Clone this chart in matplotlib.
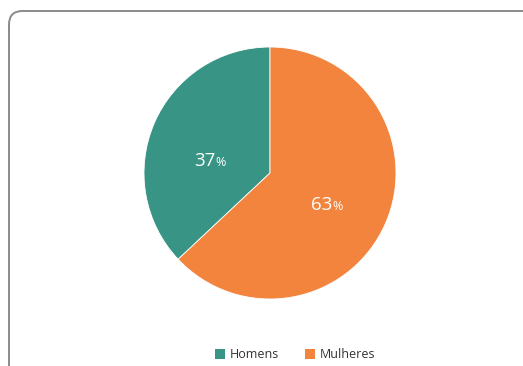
import numpy as np
import matplotlib
matplotlib.use("Agg")
import matplotlib.pyplot as plt
from matplotlib.patches import FancyBboxPatch, Patch

labels = ["Homens", "Mulheres"]
values = [37, 63]
colors = ["#389484", "#F2843D"]

W, H = 523, 366
fig = plt.figure(figsize=(W / 100, H / 100), dpi=100)
plt.rcParams["font.family"] = ["Open Sans", "DejaVu Sans"]

# frame (rounded box, runs off right and bottom)
frame = FancyBboxPatch((9 / W, -0.2), 1.2, (H - 11) / H + 0.2,
                       boxstyle="round,pad=0,rounding_size=0.026",
                       transform=fig.transFigure, fill=False,
                       edgecolor="#8a8a8a", linewidth=1.4, mutation_aspect=W / H)
fig.patches.append(frame)

ax = fig.add_axes([0, 0, 1, 1])
cx, cy, r = 270, H - 173, 126
wedges, _ = ax.pie(values, colors=colors, startangle=90, counterclock=True,
                   radius=r, center=(cx, cy), frame=True,
                   wedgeprops=dict(edgecolor="white", linewidth=0.6))
ax.set_xlim(0, W)
ax.set_ylim(0, H)
ax.set_aspect("equal")
ax.axis("off")

# labels: big number + small percent sign
for w, v, dtheta, dist in zip(wedges, values, [10, -4], [0.48, 0.52]):
    ang = np.deg2rad((w.theta1 + w.theta2) / 2 + dtheta)
    x = cx + dist * r * np.cos(ang) + 4
    y = cy + dist * r * np.sin(ang) - 7
    ax.text(x, y, f"{v}", color="white", fontsize=13.5,
            ha="right", va="baseline")
    ax.text(x + 0.5, y, "%", color="white", fontsize=9,
            ha="left", va="baseline")

handles = [Patch(facecolor=c, edgecolor="none") for c in colors]
fig.legend(handles, labels, loc="center", bbox_to_anchor=(295 / W, 1 - 355 / H),
           ncol=2, frameon=False, fontsize=9, handlelength=0.8,
           handleheight=0.8, handletextpad=0.35, columnspacing=2.1,
           labelcolor="#333333", borderpad=0, borderaxespad=0)

fig.savefig("out.png", dpi=100)
